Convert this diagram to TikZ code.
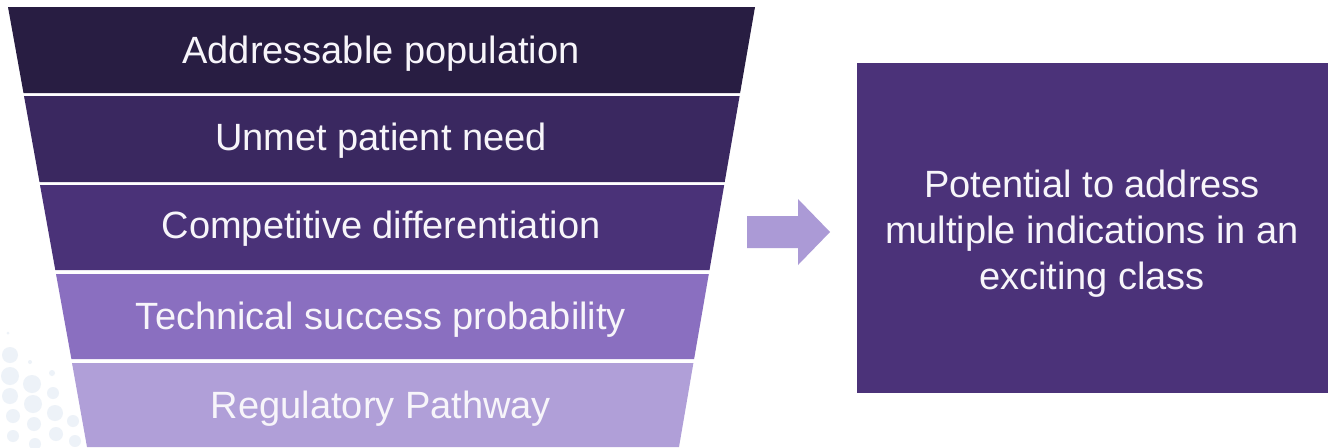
\documentclass[tikz,border=0pt]{standalone}
\usepackage{fontspec}
\setmainfont{Liberation Sans}
\definecolor{bandA}{HTML}{281D42}
\definecolor{bandB}{HTML}{3A2860}
\definecolor{bandC}{HTML}{4A3278}
\definecolor{bandD}{HTML}{8A6FC0}
\definecolor{bandE}{HTML}{B09FD8}
\definecolor{arrowc}{HTML}{AB9AD6}
\definecolor{boxc}{HTML}{4B3279}
\definecolor{dotc}{HTML}{EDF2F8}
\definecolor{txt}{HTML}{F7F5FA}
\tikzset{
  bandlabel/.style={text=txt, font=\fontsize{38}{46}\selectfont, anchor=base, inner sep=0pt},
  dot/.style={fill=dotc, draw=none},
}
\begin{document}
\begin{tikzpicture}[x=1pt,y=-1pt]
\useasboundingbox (0,0) rectangle (1329,447);
\fill[white] (0,0) rectangle (1329,447);
% faint dots
\foreach \px/\py/\r in {8/333/1.5, 10/355/8, 30/362/2, 10/376/9, 32/384/9, 52/373/3, 10/396/8, 33/404/9, 53/393/6, 13/416/7, 34/424/7, 55/413/8, 73/421/6, 13/436/6, 35/444/6, 56/434/7, 75/441/6}
  \fill[dot] (\px,\py) circle (\r);
% funnel bands
\fill[bandA] (8,7) -- (755,7) -- (740.1,93) -- (23.5,93) -- cycle;
\fill[bandB] (24,96) -- (739.6,96) -- (724.7,182) -- (39.5,182) -- cycle;
\fill[bandC] (40,185) -- (724.2,185) -- (709.5,270) -- (55.3,270) -- cycle;
\fill[bandD] (56,274) -- (708.8,274) -- (694.1,359) -- (71.4,359) -- cycle;
\fill[bandE] (72,363) -- (693.4,363) -- (679,447) -- (87,447) -- cycle;
\node[bandlabel] (l1) at (381,63.5) {Addressable population};
\node[bandlabel] (l2) at (381,150.5) {Unmet patient need};
\node[bandlabel] (l3) at (381,238.5) {Competitive differentiation};
\node[bandlabel] (l4) at (381,329.5) {Technical success probability};
\node[bandlabel] (l5) at (381,418.5) {Regulatory Pathway};
% arrow
\fill[arrowc] (747,216) -- (798,216) -- (798,199) -- (830,232) -- (798,265) -- (798,248) -- (747,248) -- cycle;
% right box
\node[fill=boxc, minimum width=471pt, minimum height=330pt, inner sep=0pt, anchor=north west] (box) at (857,63) {};
\node[bandlabel] (bt1) at (1092,197) {Potential to address};
\node[bandlabel] (bt2) at (1092,243) {multiple indications in an};
\node[bandlabel] (bt3) at (1092,289) {exciting class};
\end{tikzpicture}
\end{document}
